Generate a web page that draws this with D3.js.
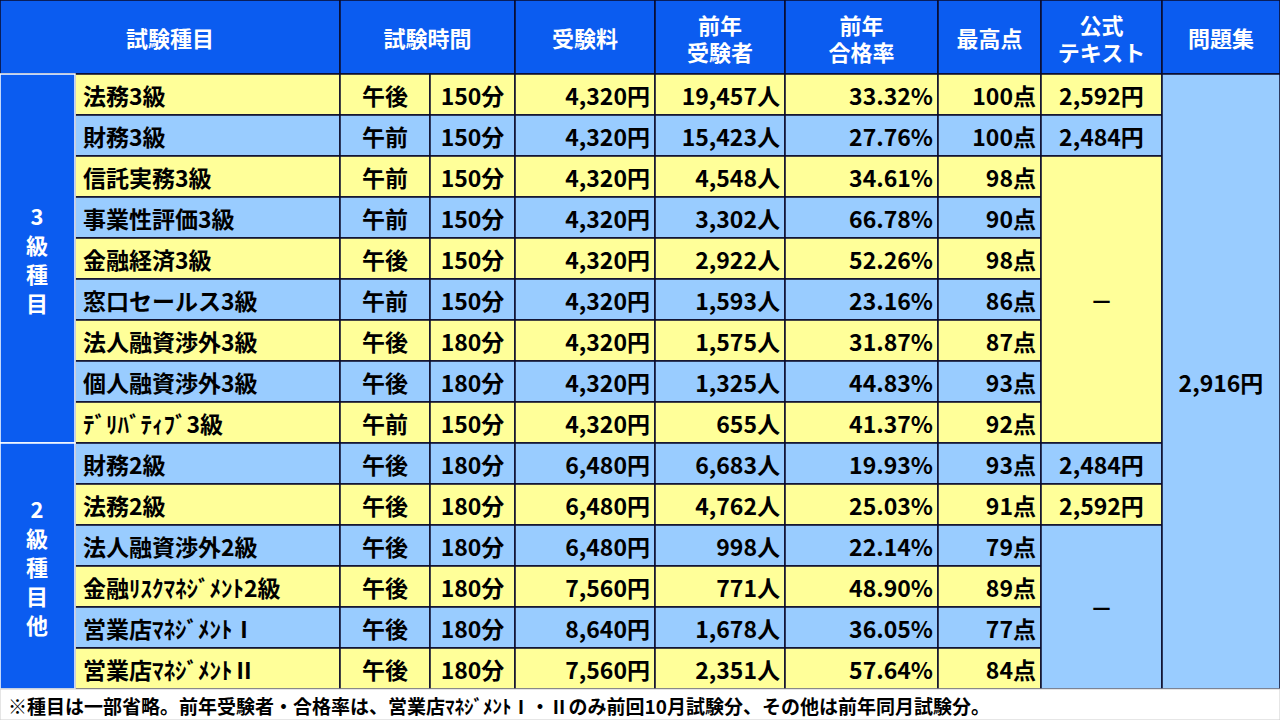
<!DOCTYPE html><html><head><meta charset="utf-8">
<script src="https://cdn.jsdelivr.net/npm/d3@7"></script>
<style>body{margin:0;background:#fff}text{font-family:"Noto Sans CJK JP",sans-serif;font-weight:bold}</style></head><body>
<svg id="c" width="1280" height="720"></svg>
<script>
const headers=["試験種目","試験時間","受験料","前年|受験者","前年|合格率","最高点","公式|テキスト","問題集"];
const names=["法務3級","財務3級","信託実務3級","事業性評価3級","金融経済3級","窓口セールス3級","法人融資渉外3級","個人融資渉外3級","ﾃﾞﾘﾊﾞﾃｨﾌﾞ3級","財務2級","法務2級","法人融資渉外2級","金融ﾘｽｸﾏﾈｼﾞﾒﾝﾄ2級","営業店ﾏﾈｼﾞﾒﾝﾄⅠ","営業店ﾏﾈｼﾞﾒﾝﾄⅡ"];
const sessions=["午後","午前","午前","午前","午後","午前","午後","午後","午前","午後","午後","午後","午後","午後","午後"];
const minutes=["150分","150分","150分","150分","150分","150分","180分","180分","150分","180分","180分","180分","180分","180分","180分"];
const fees=["4,320円","4,320円","4,320円","4,320円","4,320円","4,320円","4,320円","4,320円","4,320円","6,480円","6,480円","6,480円","7,560円","8,640円","7,560円"];
const examinees=["19,457人","15,423人","4,548人","3,302人","2,922人","1,593人","1,575人","1,325人","655人","6,683人","4,762人","998人","771人","1,678人","2,351人"];
const passRates=["33.32%","27.76%","34.61%","66.78%","52.26%","23.16%","31.87%","44.83%","41.37%","19.93%","25.03%","22.14%","48.90%","36.05%","57.64%"];
const topScores=["100点","100点","98点","90点","98点","86点","87点","93点","92点","93点","91点","79点","89点","77点","84点"];
const texts=[["2,592円",0,0],["2,484円",1,1],["－",2,8],["2,484円",9,9],["2,592円",10,10],["－",11,14]];
const workbook=["2,916円",0,14];
const groups=[["3|級|種|目",0,8],["2|級|種|目|他",9,14]];
const note="※種目は一部省略。前年受験者・合格率は、営業店ﾏﾈｼﾞﾒﾝﾄⅠ・Ⅱのみ前回10月試験分、その他は前年同月試験分。";

const svg=d3.select("#c");
const xs=[0,75,340,430,515,655,785,938,1041,1162,1280];
const y=d3.scaleBand().domain(d3.range(15)).range([74,689]);
const BLUE="#0B5CF0",YEL="#FFFF99",LB="#99CCFF",LINE="#0a0a2a";
const bg=i=>i%2?LB:YEL;
function cell(x0,x1,y0,y1,fill){svg.append("rect").attr("x",x0).attr("y",y0).attr("width",x1-x0).attr("height",y1-y0).attr("fill",fill).attr("stroke",LINE).attr("stroke-width",1.5);}
function txt(s,x,yy,anchor,fill,size){svg.append("text").attr("x",x).attr("y",yy).attr("text-anchor",anchor).attr("dominant-baseline","central").attr("fill",fill||"#000").attr("font-size",size||23).text(s);}
const hx=[[0,340],[340,515],[515,655],[655,785],[785,938],[938,1041],[1041,1162],[1162,1280]];
hx.forEach((h,i)=>{cell(h[0],h[1],0,74,BLUE);const parts=headers[i].split("|");
 parts.forEach((p,k)=>txt(p,(h[0]+h[1])/2,37+(k-(parts.length-1)/2)*27,"middle","#fff",22));});
const cols=[[names,1,2,"start"],[sessions,2,3,"middle"],[minutes,3,4,"middle"],[fees,4,5,"end"],[examinees,5,6,"end"],[passRates,6,7,"end"],[topScores,7,8,"end"]];
d3.range(15).forEach(i=>{const y0=y(i),y1=y0+y.bandwidth();
 cols.forEach(([arr,a,b,an])=>{cell(xs[a],xs[b],y0,y1,bg(i));
  const tx=an==="start"?xs[a]+8:an==="end"?xs[b]-5:(xs[a]+xs[b])/2;txt(arr[i],tx,(y0+y1)/2,an);});});
texts.forEach(([s,a,b])=>{const y0=y(a),y1=y(b)+y.bandwidth();cell(xs[8],xs[9],y0,y1,bg(a));txt(s,(xs[8]+xs[9])/2,(y0+y1)/2,"middle");});
cell(xs[9],xs[10],y(workbook[1]),y(workbook[2])+y.bandwidth(),LB);txt(workbook[0],(xs[9]+xs[10])/2,(y(workbook[1])+y(workbook[2])+y.bandwidth())/2,"middle");
groups.forEach(([s,a,b])=>{const y0=y(a),y1=y(b)+y.bandwidth();svg.append("rect").attr("x",0).attr("y",y0).attr("width",75).attr("height",y1-y0).attr("fill",BLUE).attr("stroke","#fff").attr("stroke-width",1.5);
 const p=s.split("|");p.forEach((c,k)=>txt(c,37,(y0+y1)/2+(k-(p.length-1)/2)*29,"middle","#fff",22));});
svg.append("rect").attr("x",0).attr("y",689).attr("width",1280).attr("height",31).attr("fill","#fff").attr("stroke","#ccc");
txt(note,8,705,"start","#000",19);
</script></body></html>
